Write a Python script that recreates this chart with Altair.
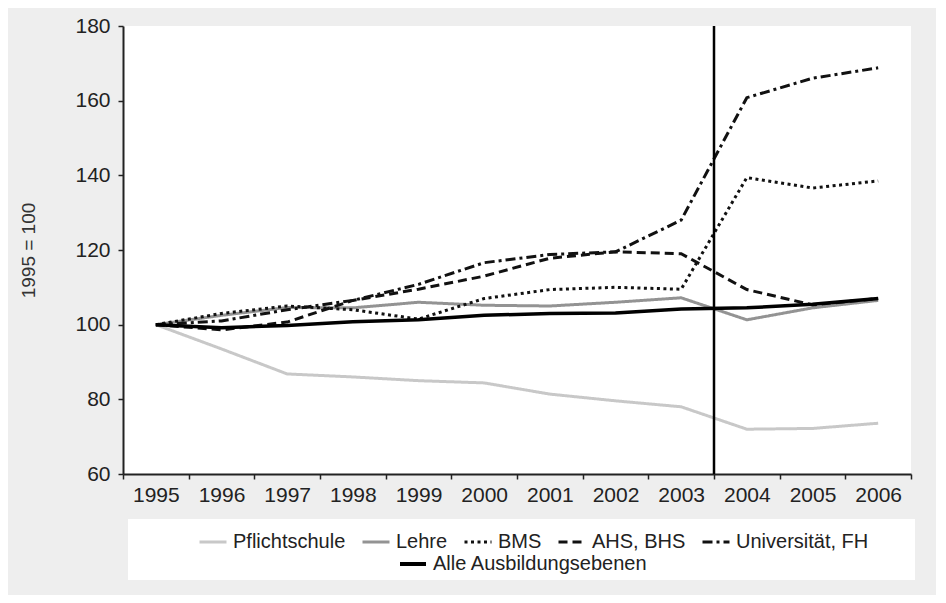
import altair as alt
import pandas as pd

years = ["1995", "1996", "1997", "1998", "1999", "2000",
         "2001", "2002", "2003", "2004", "2005", "2006"]

pflichtschule = [100, 93.5, 86.8, 86.0, 85.0, 84.4, 81.4, 79.6, 78.0, 72.0, 72.2, 73.6]
lehre = [100, 102.5, 104.6, 104.5, 106.0, 105.2, 105.0, 106.0, 107.2, 101.3, 104.5, 106.5]
bms = [100, 103.0, 105.0, 104.0, 101.5, 107.0, 109.4, 110.0, 109.5, 139.4, 136.6, 138.5]
ahs_bhs = [100, 98.6, 100.7, 106.5, 109.5, 113.0, 117.8, 119.5, 119.0, 109.4, 105.3, 107.0]
uni_fh = [100, 101.0, 104.0, 106.5, 110.8, 116.6, 118.8, 119.5, 128.0, 160.8, 166.0, 168.8]
alle = [100, 99.2, 99.8, 100.8, 101.3, 102.5, 103.0, 103.1, 104.2, 104.5, 105.5, 107.0]

series_names = ["Pflichtschule", "Lehre", "BMS", "AHS, BHS", "Universität, FH"]
series_values = [pflichtschule, lehre, bms, ahs_bhs, uni_fh]
total_name = "Alle Ausbildungsebenen"
reform_year = ["2004"]

rows = []
for name, vals in zip(series_names, series_values):
    for y, v in zip(years, vals):
        rows.append({"year": y, "value": v, "series": name})
df = pd.DataFrame(rows)
df_total = pd.DataFrame({"year": years, "value": alle, "series": total_name})
df_rule = pd.DataFrame({"year": reform_year})

FONT = "Liberation Sans"
W, H = 788, 448

xscale = alt.Scale(type="band", domain=years, paddingInner=0, paddingOuter=0)
yscale = alt.Scale(domain=[60, 180], nice=False, zero=False)

x_axis = alt.Axis(title=None, labelAngle=0, tickBand="extent", grid=False,
                  labelFontSize=21, labelFont=FONT, labelColor="#222",
                  labelPadding=5, tickSize=5, tickColor="#222",
                  domainColor="#222", domainWidth=2, tickWidth=1.5)
y_axis = alt.Axis(title="1995 = 100", values=[60, 80, 100, 120, 140, 160, 180],
                  grid=False, labelFontSize=21, labelFont=FONT,
                  labelColor="#222", labelPadding=8, tickSize=5,
                  tickColor="#222", domainColor="#222", domainWidth=2,
                  tickWidth=1.5, titleFont=FONT, titleFontSize=19,
                  titleFontWeight="normal", titleColor="#333", titlePadding=36)

legend_main = alt.Legend(title=None, orient="none", direction="horizontal",
                         legendX=75, legendY=501, labelFont=FONT,
                         labelFontSize=20, labelColor="#222", symbolSize=729,
                         symbolStrokeWidth=3, symbolType="stroke",
                         columnPadding=10, labelOffset=5, padding=0,
                         labelLimit=400)
legend_total = alt.Legend(title=None, orient="none", direction="horizontal",
                          legendX=275, legendY=523, labelFont=FONT,
                          labelFontSize=20, labelColor="#222", symbolSize=676,
                          symbolStrokeWidth=4, symbolType="stroke",
                          labelOffset=5, padding=0, labelLimit=400)

box = alt.Chart(alt.Data(values=[{"box": 1}])).mark_rect(
    color="white").encode(
    x=alt.value(5), x2=alt.value(792), y=alt.value(493), y2=alt.value(554))

lines = alt.Chart(df).mark_line(strokeWidth=3).encode(
    x=alt.X("year:O", scale=xscale, axis=x_axis, bandPosition=0.5),
    y=alt.Y("value:Q", scale=yscale, axis=y_axis),
    color=alt.Color("series:N", scale=alt.Scale(
        domain=series_names,
        range=["#c8c8c8", "#939393", "#111111", "#111111", "#111111"]),
        legend=legend_main),
    strokeDash=alt.StrokeDash("series:N", scale=alt.Scale(
        domain=series_names,
        range=[[1, 0], [1, 0], [3, 3.5], [9, 5], [10, 4, 3, 4]]),
        legend=legend_main),
    detail="series:N",
)

total = alt.Chart(df_total).mark_line(strokeWidth=3.5).encode(
    x=alt.X("year:O", scale=xscale, bandPosition=0.5),
    y=alt.Y("value:Q", scale=yscale),
    color=alt.Color("series:N", scale=alt.Scale(domain=[total_name], range=["#000000"]),
                    legend=legend_total),
)

rule = alt.Chart(df_rule).mark_rule(color="#000000", strokeWidth=2.5).encode(
    x=alt.X("year:O", scale=xscale, bandPosition=0),
)

chart = alt.layer(box, lines, total, rule).resolve_scale(
    color="independent", strokeDash="independent"
).properties(
    width=W, height=H, background="#eeeeee",
    padding={"left": 11, "top": 7, "right": 21, "bottom": 15},
).configure_view(fill="white", stroke=None)

chart.save("out.html", embed_options={"renderer": "svg", "actions": False})
